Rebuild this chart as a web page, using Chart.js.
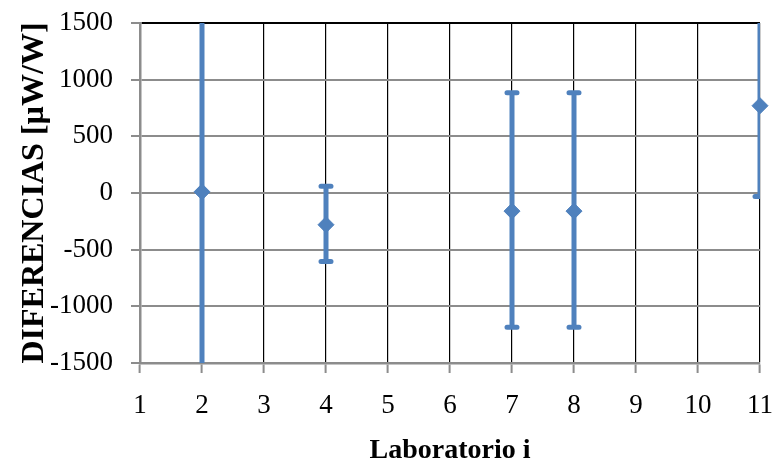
<!DOCTYPE html>
<html>
<head>
<meta charset="utf-8">
<script src="https://cdn.jsdelivr.net/npm/chart.js@4"></script>
<style>
  html, body { margin: 0; padding: 0; background: #fff; }
  #wrap { width: 784px; height: 463px; }
</style>
</head>
<body>
<div id="wrap"><canvas id="chart"></canvas></div>
<script>
// labs and their differences [µW/W]
var labs = [2, 4, 7, 8, 11];
var diffs = [10, -280, -160, -160, 770];
// error bar ends (lower / upper)
var errLow = [-2000, -605, -1185, -1185, -30];
var errHigh = [2000, 60, 885, 885, 2300];

var xTicks = [1, 2, 3, 4, 5, 6, 7, 8, 9, 10, 11];
var yTicks = [-1500, -1000, -500, 0, 500, 1000, 1500];

var blue = '#4f81bd';
var gray = '#8c8c8c';

var points = [];
for (var i = 0; i < labs.length; i++) {
    points.push({x: labs[i], y: diffs[i]});
}

// draws the vertical error bars with their caps, clipped to the plot area
var errorBars = {
    id: 'errorBars',
    beforeDatasetsDraw: function(chart) {
        var ctx = chart.ctx;
        var xs = chart.scales.x, ys = chart.scales.y;
        var area = chart.chartArea;
        ctx.save();
        ctx.beginPath();
        ctx.rect(area.left, area.top, area.right - area.left, area.bottom - area.top);
        ctx.clip();
        ctx.strokeStyle = blue;
        ctx.lineCap = 'round';
        ctx.lineWidth = 5;
        for (var i = 0; i < labs.length; i++) {
            var px = xs.getPixelForValue(labs[i]);
            var y1 = ys.getPixelForValue(errLow[i]);
            var y2 = ys.getPixelForValue(errHigh[i]);
            ctx.beginPath();
            ctx.moveTo(px, y1);
            ctx.lineTo(px, y2);
            ctx.moveTo(px - 5, y1); ctx.lineTo(px + 5, y1);
            ctx.moveTo(px - 5, y2); ctx.lineTo(px + 5, y2);
            ctx.stroke();
        }
        ctx.restore();
    }
};

var font = 'Liberation Serif, Times New Roman, serif';

new Chart(document.getElementById('chart'), {
    type: 'scatter',
    data: {
        datasets: [{
            data: points,
            pointStyle: 'rectRot',
            pointRadius: 8,
            pointHoverRadius: 8,
            pointBorderWidth: 1,
            backgroundColor: blue,
            borderColor: blue,
            clip: false
        }]
    },
    options: {
        responsive: true,
        maintainAspectRatio: false,
        animation: false,
        events: [],
        layout: { autoPadding: false, padding: { top: 23, right: 24, left: 0, bottom: 0 } },
        plugins: {
            legend: { display: false },
            tooltip: { enabled: false }
        },
        scales: {
            x: {
                type: 'linear',
                min: 1, max: 11,
                afterBuildTicks: function(scale) {
                    scale.ticks = xTicks.map(function(v) { return {value: v}; });
                },
                afterFit: function(scale) {
                    scale.height = 100;
                    scale.paddingLeft = 0;
                    scale.paddingRight = 0;
                },
                grid: {
                    color: '#000',
                    lineWidth: 1.2,
                    tickColor: gray,
                    tickLength: 10,
                    tickWidth: 2
                },
                border: { color: gray, width: 2.5 },
                ticks: {
                    color: '#000',
                    padding: 17,
                    maxRotation: 0,
                    callback: function(v) { return String(v); },
                    font: { family: font, size: 27 }
                },
                title: {
                    display: true,
                    text: 'Laboratorio i',
                    color: '#000',
                    padding: { top: 0, bottom: 0 },
                    font: { family: font, size: 28, weight: 'bold', lineHeight: 0.9 }
                }
            },
            y: {
                min: -1500, max: 1500,
                afterBuildTicks: function(scale) {
                    scale.ticks = yTicks.map(function(v) { return {value: v}; });
                },
                afterFit: function(scale) {
                    scale.width = 140;
                    scale.paddingTop = 0;
                    scale.paddingBottom = 0;
                },
                grid: {
                    color: function(c) { return c.tick && c.tick.value === 1500 ? '#000' : gray; },
                    lineWidth: 2,
                    tickColor: gray,
                    tickLength: 9,
                    tickWidth: 2
                },
                border: { color: gray, width: 2.5 },
                ticks: {
                    color: '#000',
                    padding: 18,
                    callback: function(v) { return String(v); },
                    font: { family: font, size: 27 }
                },
                title: {
                    display: true,
                    text: 'DIFERENCIAS [µW/W]',
                    color: '#000',
                    padding: { top: 16, bottom: 0 },
                    font: { family: font, size: 32, weight: 'bold' }
                }
            }
        }
    },
    plugins: [errorBars]
});
</script>
</body>
</html>
